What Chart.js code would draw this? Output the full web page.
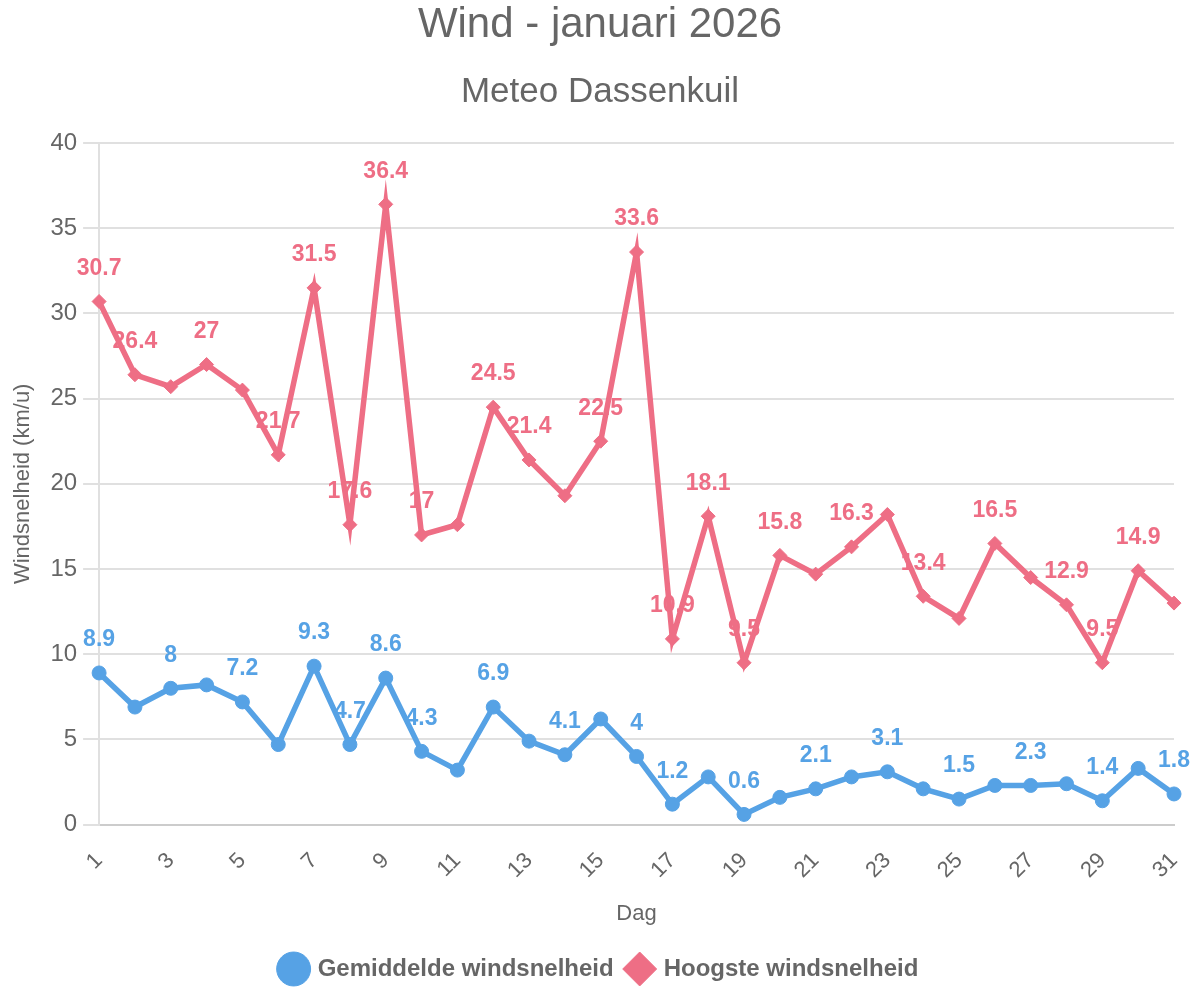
<!DOCTYPE html>
<html>
<head>
<meta charset="utf-8">
<script src="https://cdn.jsdelivr.net/npm/chart.js@4"></script>
<style>
  html, body { margin: 0; padding: 0; background: #fff; }
  #wrap { width: 1200px; height: 1000px; }
</style>
</head>
<body>
<div id="wrap"><canvas id="wind"></canvas></div>
<script>
// dagen van januari
const dagen = Array.from({ length: 31 }, (_, i) => String(i + 1));

// gemiddelde windsnelheid (km/u)
const gemiddeld = [8.9, 6.9, 8, 8.2, 7.2, 4.7, 9.3, 4.7, 8.6, 4.3, 3.2, 6.9, 4.9, 4.1, 6.2, 4,
  1.2, 2.8, 0.6, 1.6, 2.1, 2.8, 3.1, 2.1, 1.5, 2.3, 2.3, 2.4, 1.4, 3.3, 1.8];

// hoogste windsnelheid (km/u)
const hoogste = [30.7, 26.4, 25.7, 27, 25.5, 21.7, 31.5, 17.6, 36.4, 17, 17.6, 24.5, 21.4, 19.3, 22.5, 33.6,
  10.9, 18.1, 9.5, 15.8, 14.7, 16.3, 18.2, 13.4, 12.1, 16.5, 14.5, 12.9, 9.5, 14.9, 13];

// dagen waarvan de waarde als label getoond wordt
const labelsGemiddeld = [1, 3, 5, 7, 8, 9, 10, 12, 14, 16, 17, 19, 21, 23, 25, 27, 29, 31];
const labelsHoogste = [1, 2, 4, 6, 7, 8, 9, 10, 12, 13, 15, 16, 17, 18, 19, 20, 22, 24, 26, 28, 29, 30];

const blauw = '#56a2e5';
const rood = '#ee6e85';

Chart.defaults.font.family = '"Liberation Sans", Arial, sans-serif';
Chart.defaults.color = '#666';

// waarden boven de punten (onder de lijnen getekend)
const waardeLabels = {
  id: 'waardeLabels',
  beforeDatasetsDraw(chart) {
    const ctx = chart.ctx;
    ctx.save();
    ctx.font = 'bold 23px "Liberation Sans", Arial, sans-serif';
    ctx.textAlign = 'center';
    ctx.textBaseline = 'middle';
    chart.data.datasets.forEach((ds, d) => {
      const meta = chart.getDatasetMeta(d);
      ctx.fillStyle = ds.borderColor;
      ds.toonLabels.forEach(dag => {
        const pt = meta.data[dag - 1];
        ctx.fillText(String(ds.data[dag - 1]), pt.x, pt.y - 33);
      });
    });
    ctx.restore();
  }
};

new Chart(document.getElementById('wind'), {
  type: 'line',
  data: {
    labels: dagen,
    datasets: [
      {
        label: 'Gemiddelde windsnelheid',
        data: gemiddeld,
        toonLabels: labelsGemiddeld,
        borderColor: blauw,
        backgroundColor: blauw,
        pointBackgroundColor: blauw,
        pointBorderColor: blauw,
        borderWidth: 5.5,
        pointStyle: 'circle',
        pointRadius: 7,
        pointBorderWidth: 1,
        tension: 0
      },
      {
        label: 'Hoogste windsnelheid',
        data: hoogste,
        toonLabels: labelsHoogste,
        borderColor: rood,
        backgroundColor: rood,
        pointBackgroundColor: rood,
        pointBorderColor: rood,
        borderWidth: 5.5,
        pointStyle: 'rectRot',
        pointRadius: 7,
        pointBorderWidth: 1,
        tension: 0
      }
    ]
  },
  options: {
    responsive: true,
    maintainAspectRatio: false,
    animation: false,
    layout: { padding: { left: 0, right: 0, top: 0, bottom: 9 } },
    plugins: {
      title: {
        display: true,
        text: 'Wind - januari 2026',
        font: { size: 42, weight: 'normal' },
        color: '#666',
        padding: { top: 0, bottom: 20.6 }
      },
      subtitle: {
        display: true,
        text: 'Meteo Dassenkuil',
        font: { size: 35, weight: 'normal' },
        color: '#666',
        padding: { top: 0, bottom: 30 }
      },
      legend: {
        position: 'bottom',
        labels: {
          usePointStyle: true,
          font: { size: 24, weight: 'bold' },
          color: '#666',
          padding: 14
        }
      },
      tooltip: { enabled: false }
    },
    scales: {
      x: {
        offset: false,
        grid: { display: false },
        border: { display: true, color: '#ccc', width: 2 },
        // ruimte rechts naast de laatste dag
        afterFit: s => { s.paddingRight = 26; },
        ticks: {
          font: { size: 22 },
          color: '#666',
          maxRotation: 45,
          minRotation: 45,
          autoSkip: false,
          padding: 15,
          callback: (v, i) => (i % 2 === 0 ? dagen[i] : '')
        },
        title: {
          display: true,
          text: 'Dag',
          font: { size: 22 },
          color: '#666',
          padding: { top: 2, bottom: 16 }
        }
      },
      y: {
        min: 0,
        max: 40,
        grid: { color: '#e0e0e0', lineWidth: 2, tickLength: 16 },
        border: { display: true, color: '#e0e0e0', width: 2 },
        ticks: {
          stepSize: 5,
          font: { size: 24 },
          color: '#666',
          padding: 6
        },
        title: {
          display: true,
          text: 'Windsnelheid (km/u)',
          font: { size: 22 },
          color: '#666',
          padding: { top: 10, bottom: 8 }
        }
      }
    }
  },
  plugins: [waardeLabels]
});
</script>
</body>
</html>
